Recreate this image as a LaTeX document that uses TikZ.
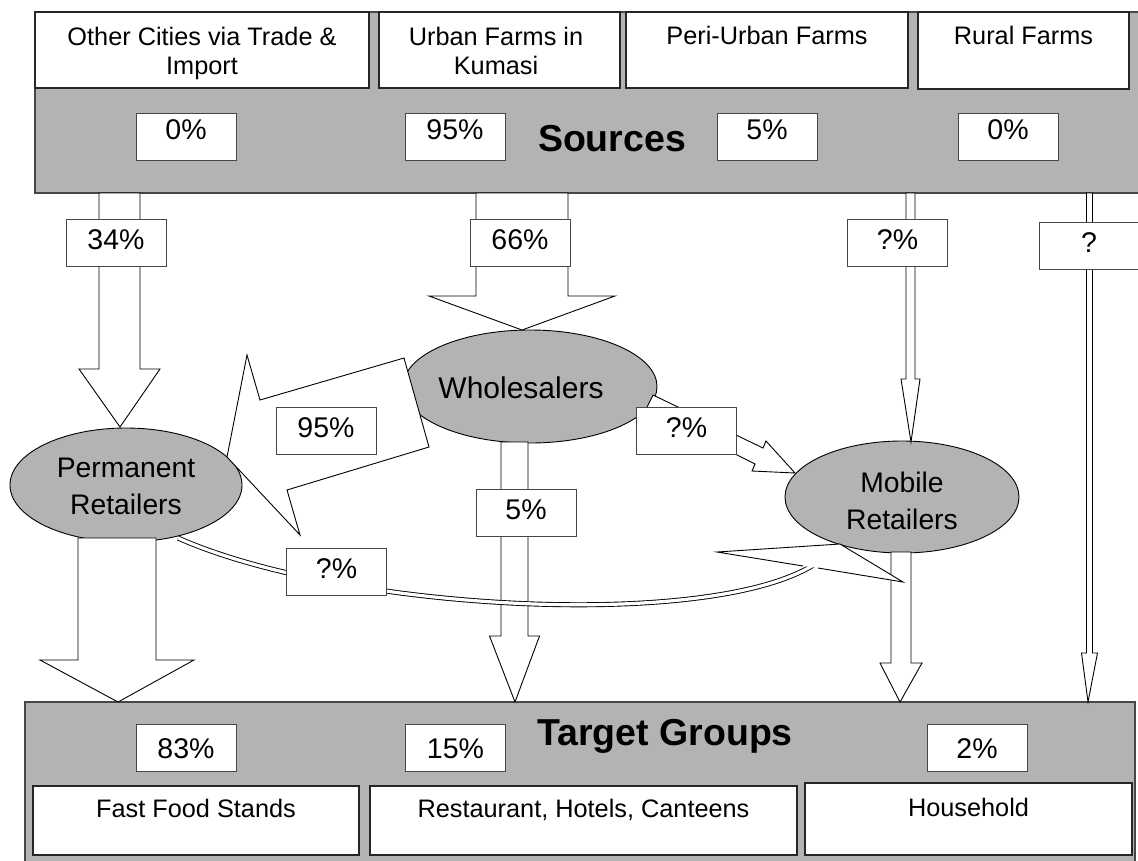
\documentclass[tikz,border=0pt]{standalone}
\usepackage{fontspec}
\setmainfont{Liberation Sans}
\usetikzlibrary{shapes.geometric}
\definecolor{bandgray}{RGB}{179,179,179}
\definecolor{edgegray}{RGB}{70,70,70}
\newcommand\vblockarrow[7]{%
  \draw[blk] ({#1-#2},#3) -- ({#1-#2},#4) -- ({#1-#5},#4) -- (#6,#7) -- ({#1+#5},#4) -- ({#1+#2},#4) -- ({#1+#2},#3) -- cycle;}
\tikzset{
  band/.style={fill=bandgray, draw=edgegray, line width=1.2pt},
  srcbox/.style={draw=black!85, line width=1.7pt, fill=white, inner sep=0pt},
  boxtext/.style={font=\fontsize{25.3}{29}\selectfont, align=center, inner sep=0pt, anchor=north},
  pct/.style={draw=edgegray, line width=0.9pt, fill=white, minimum width=100pt, minimum height=47pt, inner sep=0pt, font=\fontsize{28.5}{32}\selectfont, text height=20pt},
  pcttop/.style={pct, text depth=15pt},
  pctmid/.style={pct, text depth=7pt},
  pctbot/.style={pct, text depth=0pt},
  ell/.style={ellipse, draw=black, line width=0.9pt, fill=bandgray, inner sep=0pt},
  elltext/.style={font=\fontsize{28.3}{37.5}\selectfont, align=center, inner sep=0pt},
  blk/.style={draw=black, line width=0.9pt, fill=white, line join=miter},
  dbl/.style={draw=black, line width=0.9pt, double=white, double distance=3.2pt},
  titletext/.style={font=\bfseries\fontsize{37.5}{40}\selectfont, inner sep=0pt, anchor=base},
}
\begin{document}
\begin{tikzpicture}[x=1pt,y=-1pt]
\useasboundingbox (0,0) rectangle (1138,860);
\clip (0,0) rectangle (1138,860);
\fill[white] (0,0) rectangle (1138,860);
% ---------- Sources band ----------
\path[band] (35,12) rectangle (1150,193);
\node[srcbox, minimum width=334pt, minimum height=76pt] (s1) at (202,50) {};
\node[srcbox, minimum width=241pt, minimum height=76pt] (s2) at (499.5,50) {};
\node[srcbox, minimum width=282pt, minimum height=76pt] (s3) at (767,50) {};
\node[srcbox, minimum width=211pt, minimum height=77pt] (s4) at (1023.5,50.5) {};
\node[boxtext] (s1t) at (202,26.5) {Other Cities via Trade \&\\Import};
\node[boxtext] (s2t) at (496,26.5) {Urban Farms in\\Kumasi};
\node[boxtext] (s3t) at (767,25.5) {Peri-Urban Farms};
\node[boxtext] (s4t) at (1023.5,25.5) {Rural Farms};
\node[pcttop] (p1) at (186,136.5) {0\%};
\node[pcttop] (p2) at (455,136.5) {95\%};
\node[pcttop] (p3) at (767,136.5) {5\%};
\node[pcttop] (p4) at (1008,136.5) {0\%};
\node[titletext] (src) at (612,151) {Sources};
% ---------- Target band ----------
\path[band] (25,702) rectangle (1135,875);
\node[pctbot] (q1) at (186,748) {83\%};
\node[pctbot] (q2) at (455.5,748) {15\%};
\node[pctbot] (q3) at (977,748) {2\%};
\node[titletext] (tg) at (665,745) {Target Groups};
\node[srcbox, line width=2pt, minimum width=326pt, minimum height=69pt] (t1) at (196,820.5) {};
\node[srcbox, line width=2pt, minimum width=427pt, minimum height=69pt] (t2) at (583.5,820.5) {};
\node[srcbox, line width=2pt, minimum width=327pt, minimum height=72pt] (t3) at (968.5,819) {};
\node[boxtext] (t1t) at (196,799) {Fast Food Stands};
\node[boxtext] (t2t) at (583.5,799) {Restaurant, Hotels, Canteens};
\node[boxtext] (t3t) at (968.5,797.5) {Household};
% ---------- actors ----------
\node[ell, minimum width=254pt, minimum height=113pt] (wh) at (530,386.5) {};
\node[ell, minimum width=232pt, minimum height=114pt] (pr) at (126,485) {};
\node[ell, minimum width=234pt, minimum height=112pt] (mr) at (902,497) {};
\node[elltext, font=\fontsize{30}{37}\selectfont] (wht) at (521,388) {Wholesalers};
\node[elltext] (prt) at (126,486.5) {Permanent\\Retailers};
\node[elltext] (mrt) at (902,501) {Mobile\\Retailers};
% ---------- block arrows ----------
\vblockarrow{119.5}{20.5}{193}{369}{40.5}{120}{427}
\vblockarrow{522}{46}{193}{296}{93}{522}{330}
\vblockarrow{910.5}{4.5}{193}{379}{9.5}{911}{442}
\vblockarrow{1089.5}{3}{193}{653}{8}{1088}{702}
\vblockarrow{117}{39}{538}{660}{77}{118}{702}
\vblockarrow{514.5}{13.5}{442}{636}{25}{515}{702}
\vblockarrow{901}{10}{552}{663}{21}{900}{702}
% wholesalers -> permanent retailers
\draw[blk] (404,358) -- (260,400) -- (247,355) -- (227,457) -- (300,535) -- (287,490) -- (429,447) -- cycle;
% wholesalers -> mobile retailers
\draw[blk] (653,395) -- (763,448) -- (766,441) -- (795,473) -- (752,471) -- (755,464) -- (646,409) -- cycle;
% permanent -> mobile (curved)
\draw[dbl] (178,538) .. controls (340,610) and (700,630) .. (810,567) -- (818,562.4);
\fill[white] (803,566) -- (717,552) -- (840,544) -- (903,582) -- (818,568) -- cycle;
\draw[line width=0.9pt, line join=miter] (818,568) -- (903,582) -- (840,544) -- (717,552) -- (803,566);
% ---------- flow labels ----------
\node[pctmid] (l1) at (116,242.5) {34\%};
\node[pctmid] (l2) at (520,242.5) {66\%};
\node[pctmid] (l3) at (897.5,242.5) {?\%};
\node[pctmid] (l4) at (1089,246) {?};
\node[pctmid] (l5) at (326,431) {95\%};
\node[pctmid] (l6) at (686.5,430.5) {?\%};
\node[pctmid] (l7) at (526,512.5) {5\%};
\node[pctmid] (l8) at (336.5,571.5) {?\%};
\end{tikzpicture}
\end{document}
